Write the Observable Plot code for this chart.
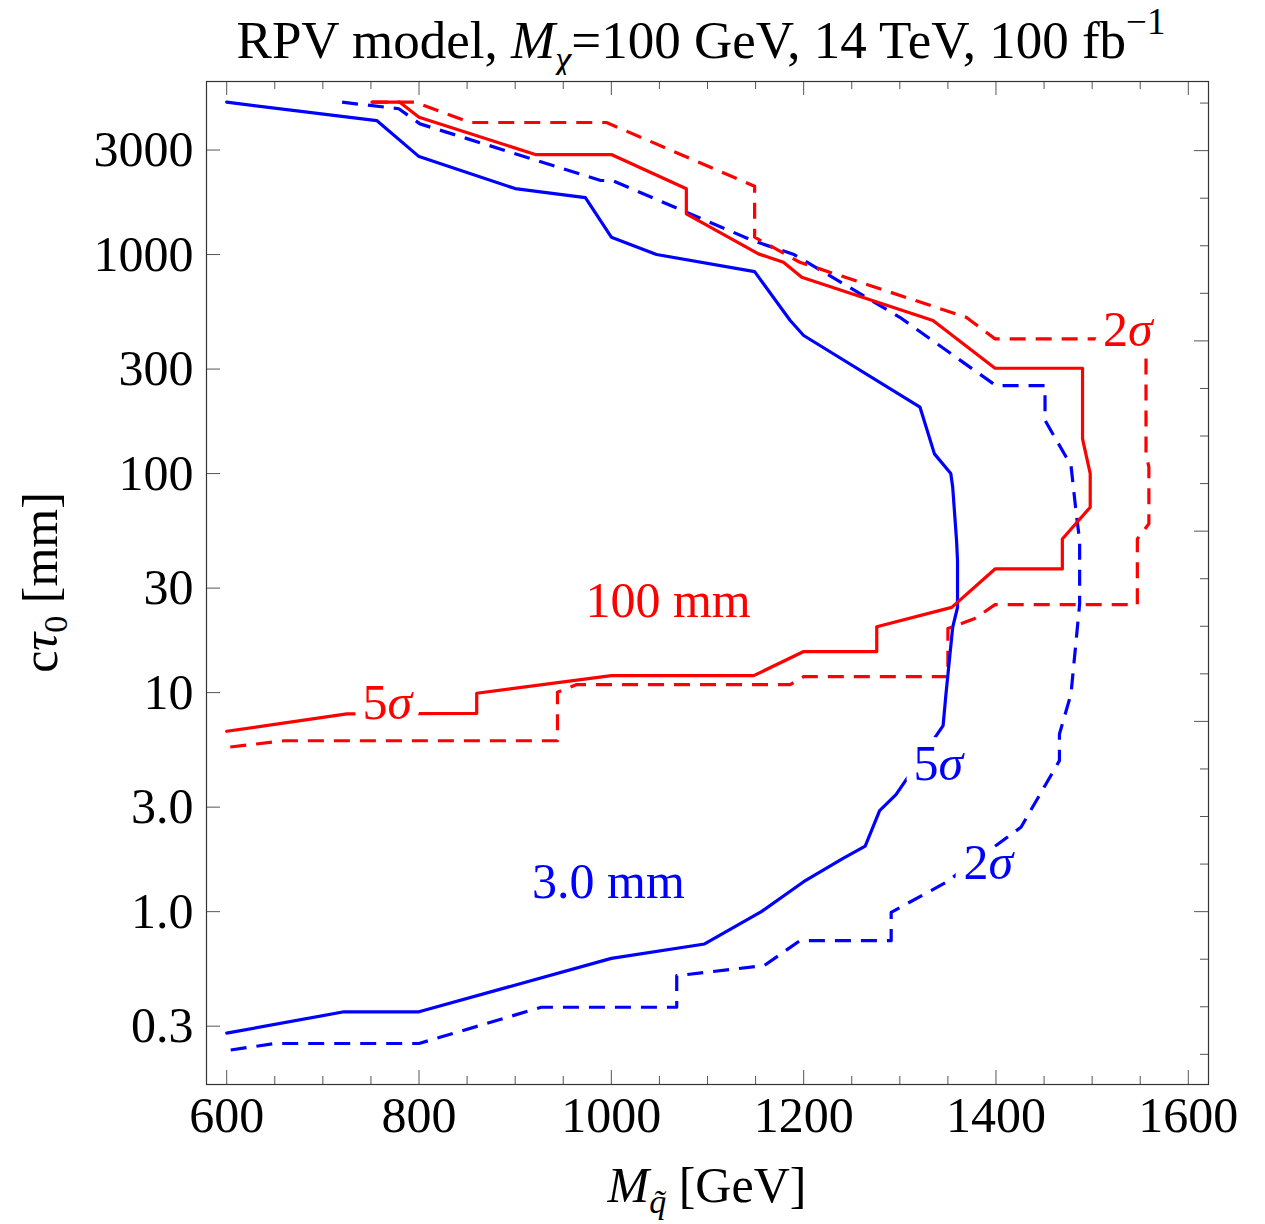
<!DOCTYPE html>
<html><head><meta charset="utf-8">
<script src="https://cdn.jsdelivr.net/npm/d3@7"></script>
<script src="https://cdn.jsdelivr.net/npm/@observablehq/plot@0.6"></script>
<style>
html,body{margin:0;padding:0;background:#fff;}
#wrap{width:1265px;height:1224px;position:relative;overflow:hidden;background:#fff;}
#title{position:absolute;left:200px;width:1002px;top:0;height:75px;text-align:center;font-family:"Liberation Serif","Times New Roman",serif;font-size:53px;line-height:53px;padding-top:14px;box-sizing:border-box;white-space:nowrap;color:#000;}
#title sub{font-size:37px;vertical-align:baseline;position:relative;top:14px;}
#title sup{font-size:37px;vertical-align:baseline;position:relative;top:-24px;}
#chart{position:absolute;left:0;top:75px;}
</style></head><body>
<div id="wrap"><div id="title">RPV model, <i>M</i><sub><i>χ</i></sub>=100 GeV, 14 TeV, 100 fb<sup>−1</sup></div><div id="chart"></div></div>
<script>
// ---- data (M_squark [GeV], c tau0 [mm]) ----
const blueSolid = [[600,4960],[756,4090],[800,2800],[900,2000],[973,1820],[1000,1200],[1047,1000],[1149,836],[1186,500],[1200,427],[1321,201],[1336,123],[1353,100],[1355,86.6],[1359,49.4],[1360,40],[1360,24.5],[1355,19.9],[1348,9.86],[1345,7.07],[1296,3.42],[1279,2.89],[1264,1.99],[1241,1.75],[1200,1.37],[1156,1.0],[1097,0.712],[1000,0.612],[800,0.349],[722,0.349],[600,0.279]];
const blueDashed = [[720,4960],[779,4630],[801,3950],[989,2178],[1001,2178],[1147,1158],[1190,1000],[1300,517],[1400,252],[1451,252],[1451,175],[1478,109],[1483.5,65.5],[1487,49.4],[1487,25.4],[1478,9.86],[1466,6.47],[1466,4.89],[1426,2.43],[1348,1.36],[1291,0.993],[1291,0.737],[1196,0.737],[1159,0.567],[1068,0.51],[1068,0.366],[927,0.366],[800,0.25],[650,0.25],[600,0.232]];
const redSolid = [[751,4960],[780,4960],[800,4236],[921,2861],[1000,2861],[1078,1996],[1078,1534],[1153,1007],[1179,922],[1198,788],[1334.5,500],[1399,302.6],[1490,302.6],[1490,144],[1498,100],[1498,70.2],[1469,50.3],[1469,36.7],[1399,36.7],[1354,24.5],[1276,20],[1276,15.4],[1200,15.4],[1148,11.95],[1000,11.95],[860,9.93],[860,8.04],[725,8.0],[600,6.66]];
const redDashed = [[751,4960],[796,4960],[853,4006],[995,4006],[1149,2050],[1149,1200],[1196,922],[1369,517],[1399,412],[1556,412],[1556,290],[1556,123],[1559,107],[1559,59],[1547,50.3],[1547,25.2],[1399,25.2],[1378,21.8],[1350,19.6],[1350,11.83],[1200,11.83],[1186,10.88],[964,10.88],[944,10.03],[944,6.03],[660,6.03],[600,5.62]];

const annText  = ["100 mm","3.0 mm","5σ","5σ","2σ","2σ"];
const annX     = [1059, 997, 767, 1340, 1392, 1537];
const annY     = [26.3, 1.37, 9.0, 4.74, 1.67, 454];
const annSeries= ["red","blue","red","blue","blue","red"];

const xDomain = [579, 1621];
const yDomain = [0.1625, 6166];
const xLabelTicks = [600,800,1000,1200,1400,1600];
const xMinorTicks = [650,700,750,850,900,950,1050,1100,1150,1250,1300,1350,1450,1500,1550];
const yLabelTicks = [0.3,1,3,10,30,100,300,1000,3000];
const yTickLabels = ["0.3","1.0","3.0","10","30","100","300","1000","3000"];
const rightMajorLn = [0,2,4,6,8];
const rightMinorLn = [-1.5,-1,-0.5,0.5,1,1.5,2.5,3,3.5,4.5,5,5.5,6.5,7,7.5,8.5];

// ---- layout / style ----
const W=1265, H=1149, mT=6, mB=140, mL=206, mR=57;
const fh = H-mT-mB, fw = W-mL-mR;
const FONT = '"Liberation Serif","Times New Roman",serif';
const colors = {red:"#ff0000", blue:"#0000ff"};
const tickColor = "#555";
const LW = 3.2;
const pts = a => a.map(([x,y]) => ({x,y}));
const ann = annText.map((t,i) => ({t, x:annX[i], y:annY[i], c:colors[annSeries[i]]}));
const yLab = yLabelTicks.map((v,i) => ({v, t:yTickLabels[i]}));

const plot = Plot.plot({
  width: W, height: H, marginTop: mT, marginBottom: mB, marginLeft: mL, marginRight: mR,
  style: {fontFamily: FONT, background: "#fff", color: "#000", overflow: "visible"},
  x: {type: "linear", domain: xDomain, axis: null},
  y: {type: "log", domain: yDomain, axis: null},
  marks: [
    Plot.line(pts(blueDashed), {x:"x", y:"y", stroke: colors.blue, strokeWidth: LW, strokeDasharray: "16,10", strokeLinecap: "butt", clip: true}),
    Plot.line(pts(redDashed),  {x:"x", y:"y", stroke: colors.red,  strokeWidth: LW, strokeDasharray: "16,10", strokeLinecap: "butt", clip: true}),
    Plot.line(pts(blueSolid),  {x:"x", y:"y", stroke: colors.blue, strokeWidth: LW, clip: true}),
    Plot.line(pts(redSolid),   {x:"x", y:"y", stroke: colors.red,  strokeWidth: LW, clip: true}),
    // label halo (masks the contour under the label), then the label itself
    Plot.text(ann, {x:"x", y:"y", text:"t", fill:"white", stroke:"white", strokeWidth: 20, fontSize: 50}),
    Plot.text(ann, {x:"x", y:"y", text:"t", fill:"c", fontSize: 50}),
    // ticks (inward)
    Plot.ruleX(xLabelTicks, {stroke: tickColor, insetTop: fh-14}),
    Plot.ruleX(xMinorTicks, {stroke: tickColor, insetTop: fh-8}),
    Plot.ruleX(xLabelTicks, {stroke: tickColor, insetBottom: fh-14}),
    Plot.ruleX(xMinorTicks, {stroke: tickColor, insetBottom: fh-8}),
    Plot.ruleY(yLabelTicks, {stroke: tickColor, insetRight: fw-14}),
    Plot.ruleY(rightMajorLn.map(Math.exp), {stroke: tickColor, insetLeft: fw-14}),
    Plot.ruleY(rightMinorLn.map(Math.exp), {stroke: tickColor, insetLeft: fw-8}),
    Plot.frame({stroke: "#333", strokeWidth: 1.2}),
    Plot.axisX({anchor: "bottom", ticks: xLabelTicks, tickSize: 0, tickPadding: 12, fontSize: 50, label: null, tickFormat: d => String(d)}),
    Plot.text(yLab, {y: "v", text: "t", frameAnchor: "left", textAnchor: "end", dx: -13, fontSize: 50, fill: "#000"})
  ]
});

const svg = d3.select(plot);
// italic sigma in contour labels
svg.selectAll('g[aria-label="text"] text').each(function() {
  const t = this.textContent;
  if (t.endsWith("σ")) {
    const s = d3.select(this);
    s.text(null);
    s.append("tspan").text(t.slice(0, -1));
    s.append("tspan").attr("font-style", "italic").text("σ");
  }
});
// x axis label
const xl = svg.append("text").attr("x", mL + fw/2).attr("y", 1127).attr("text-anchor", "middle")
  .attr("font-size", 50).attr("font-family", FONT).attr("fill", "#000");
xl.append("tspan").attr("font-style", "italic").text("M");
xl.append("tspan").attr("font-style", "italic").attr("font-size", 34).attr("dy", 11).text("q\u0303");
xl.append("tspan").attr("dy", -11).text(" [GeV]");
// y axis label
const yl = svg.append("text").attr("transform", `translate(57,${mT + fh/2}) rotate(-90)`).attr("text-anchor", "middle")
  .attr("font-size", 50).attr("font-family", FONT).attr("fill", "#000");
yl.append("tspan").text("c");
yl.append("tspan").attr("font-style", "italic").text("τ");
yl.append("tspan").attr("font-size", 34).attr("dy", 10).text("0");
yl.append("tspan").attr("dy", -10).text(" [mm]");

document.getElementById("chart").appendChild(plot);
</script></body></html>
